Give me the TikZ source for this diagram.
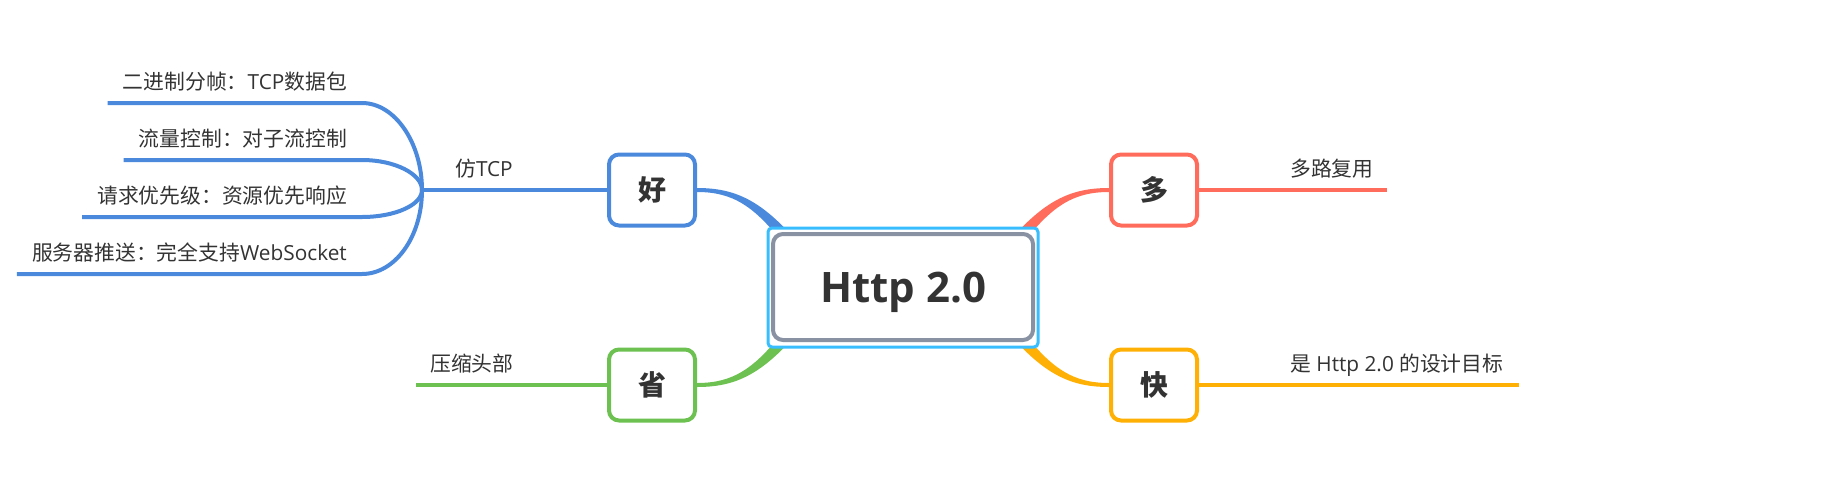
\documentclass[tikz,border=0pt]{standalone}
\usepackage{fontspec}
\setmainfont{Open Sans}
\newfontfamily\cjk{Noto Sans CJK SC}
\usetikzlibrary{calc}
\definecolor{cblue}{RGB}{74,137,220}
\definecolor{cred}{RGB}{255,108,92}
\definecolor{corange}{RGB}{255,176,5}
\definecolor{cgreen}{RGB}{108,193,80}
\definecolor{cgray}{RGB}{136,146,163}
\definecolor{ccyan}{RGB}{56,190,255}
\definecolor{ctext}{RGB}{51,51,51}
\begin{document}
\begin{tikzpicture}[x=1pt,y=-1pt,
  lbl/.style={inner xsep=15pt, inner ysep=0pt, text=ctext, font=\fontsize{20.8}{25}\selectfont},
  topic/.style={draw, line width=4pt, rounded corners=10pt, fill=white, minimum width=86pt, minimum height=71pt, inner sep=0pt, text=ctext, font=\cjk\bfseries\fontsize{28}{30}\selectfont},
  branch/.style={line width=4pt}]
\useasboundingbox (0,0) rectangle (1837,493);

% topic boxes
\node[topic, draw=cblue] (hao) at (652,190) {好};
\node[topic, draw=cgreen] (sheng) at (652,385) {省};
\node[topic, draw=cred] (duo) at (1154,190) {多};
\node[topic, draw=corange] (kuai) at (1154,385) {快};

% tapered connectors from centre
\fill[cblue] ([yshift=2pt]hao.east) .. controls (735,188) and (762,200) .. (800,245) -- (788,250) .. controls (755,205) and (732,192) .. ([yshift=-2pt]hao.east) -- cycle;
\fill[cred] ([yshift=2pt]duo.west) .. controls (1071,188) and (1044,200) .. (1006,245) -- (1018,250) .. controls (1051,205) and (1074,192) .. ([yshift=-2pt]duo.west) -- cycle;
\fill[cgreen] ([yshift=-2pt]sheng.east) .. controls (735,387) and (762,375) .. (800,330) -- (788,325) .. controls (755,370) and (732,383) .. ([yshift=2pt]sheng.east) -- cycle;
\fill[corange] ([yshift=-2pt]kuai.west) .. controls (1071,387) and (1044,375) .. (1006,330) -- (1018,325) .. controls (1051,370) and (1074,383) .. ([yshift=2pt]kuai.west) -- cycle;

% selection frame
\node[draw=ccyan, fill=white, line width=3pt, rounded corners=4pt, minimum width=270pt, minimum height=119pt, inner sep=0pt] (sel) at (903,287.5) {};

% central topic
\node[draw=cgray, line width=4pt, rounded corners=10pt, fill=white, minimum width=260pt, minimum height=106pt, inner sep=0pt, text=ctext, text depth=0pt, font=\bfseries\fontsize{42}{48}\selectfont] (c) at (903,287) {Http 2.0};

% labels
\node[lbl, anchor=base east] (t1) at (362,89.5) {{\cjk 二进制分帧：}TCP{\cjk 数据包}};
\node[lbl, anchor=base east] (t2) at (362,146.5) {{\cjk 流量控制：对子流控制}};
\node[lbl, anchor=base east] (t3) at (362,203.5) {{\cjk 请求优先级：资源优先响应}};
\node[lbl, anchor=base east] (t4) at (362,260.5) {{\cjk 服务器推送：完全支持}WebSocket};
\node[lbl, anchor=base west, inner xsep=0pt] (tf) at (455,176.5) {{\cjk 仿}TCP};
\node[lbl, anchor=base west, inner xsep=0pt] (ty) at (430,371.5) {{\cjk 压缩头部}};
\node[lbl, anchor=base west, inner xsep=0pt] (tm) at (1290,176.5) {{\cjk 多路复用}};
\node[lbl, anchor=base west, inner xsep=0pt] (tk) at (1290,371.5) {{\cjk 是} Http 2.0 {\cjk 的设计目标}};

% coordinates
\coordinate (J) at (422,190);
\coordinate (c1) at (362,103);
\coordinate (c2) at (362,160);
\coordinate (c3) at (362,217);
\coordinate (c4) at (362,274);
\coordinate (eS) at (416,385);
\coordinate (eM) at (1387,190);
\coordinate (eK) at (1519,385);

% branches
\draw[branch, cblue] (J) -- (hao.west);
\draw[branch, cblue] (t1.west |- c1) -- (c1) .. controls (395,103) and (422,143) .. (J);
\draw[branch, cblue] (t2.west |- c2) -- (c2) .. controls (395,160) and (422,174) .. (J);
\draw[branch, cblue] (t3.west |- c3) -- (c3) .. controls (395,217) and (422,205) .. (J);
\draw[branch, cblue] (t4.west |- c4) -- (c4) .. controls (395,274) and (422,237) .. (J);
\draw[branch, cgreen] (eS) -- (sheng.west);
\draw[branch, cred] (duo.east) -- (eM);
\draw[branch, corange] (kuai.east) -- (eK);
\end{tikzpicture}
\end{document}
